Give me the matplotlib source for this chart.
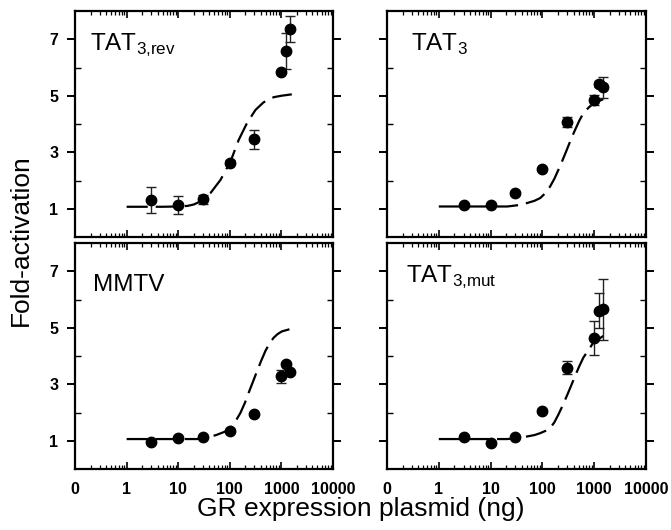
import matplotlib
matplotlib.use("Agg")
import matplotlib.pyplot as plt
from matplotlib.ticker import LogLocator, NullFormatter, FixedLocator

plt.rcParams['font.family'] = ['Liberation Sans', 'DejaVu Sans']

# ---- data ----
dose = [3, 10, 30, 100, 300, 1000, 1250, 1500]

tat3rev_y = [1.31, 1.14, 1.33, 2.63, 3.46, 5.85, 6.58, 7.37]
tat3rev_err = [0.46, 0.32, 0.17, 0.08, 0.33, 0.05, 0.63, 0.47]
tat3rev_fit_x = [1, 5, 10, 15, 20, 27, 42, 66, 103, 149, 215, 315, 453, 712, 1000, 1590]
tat3rev_fit_y = [1.07, 1.07, 1.08, 1.10, 1.15, 1.26, 1.55, 2.02, 2.67, 3.44, 4.03, 4.50, 4.77, 4.95, 5.00, 5.05]

tat3_y = [1.14, 1.12, 1.55, 2.41, 4.08, 4.85, 5.42, 5.30]
tat3_err = [0.04, 0.03, 0.08, 0.05, 0.17, 0.17, 0.10, 0.37]
tat3_fit_x = [1, 10, 21, 35, 50, 70, 91, 115, 141, 170, 204, 245, 295, 355, 427, 510, 616, 780, 970, 1500]
tat3_fit_y = [1.08, 1.08, 1.08, 1.13, 1.20, 1.28, 1.38, 1.56, 1.79, 2.06, 2.38, 2.72, 3.08, 3.45, 3.79, 4.10, 4.38, 4.58, 4.73, 4.88]

mmtv_y = [0.95, 1.10, 1.12, 1.33, 1.95, 3.29, 3.70, 3.43]
mmtv_err = [0.03, 0.03, 0.03, 0.07, 0.05, 0.23, 0.05, 0.05]
mmtv_fit_x = [1, 10, 23, 40, 56, 80, 103, 130, 160, 195, 232, 280, 338, 410, 490, 590, 710, 850, 1020, 1590]
mmtv_fit_y = [1.06, 1.06, 1.06, 1.13, 1.21, 1.32, 1.45, 1.70, 1.98, 2.33, 2.70, 3.08, 3.47, 3.85, 4.18, 4.45, 4.65, 4.78, 4.87, 4.97]

tat3mut_y = [1.15, 0.92, 1.13, 2.04, 3.59, 4.65, 5.60, 5.66]
tat3mut_err = [0.03, 0.03, 0.03, 0.07, 0.22, 0.60, 0.62, 1.08]
tat3mut_fit_x = [1, 10, 21, 35, 50, 70, 91, 115, 141, 170, 204, 245, 295, 355, 427, 510, 616, 780, 970, 1500]
tat3mut_fit_y = [1.06, 1.06, 1.06, 1.10, 1.15, 1.20, 1.27, 1.35, 1.45, 1.65, 1.93, 2.24, 2.58, 2.93, 3.29, 3.62, 3.94, 4.22, 4.48, 4.71]

panel_names = [r'TAT$_{\mathregular{3{,}rev}}$', r'TAT$_{\mathregular{3}}$',
               'MMTV', r'TAT$_{\mathregular{3{,}mut}}$']
panels = [
    (tat3rev_y, tat3rev_err, tat3rev_fit_x, tat3rev_fit_y),
    (tat3_y, tat3_err, tat3_fit_x, tat3_fit_y),
    (mmtv_y, mmtv_err, mmtv_fit_x, mmtv_fit_y),
    (tat3mut_y, tat3mut_err, tat3mut_fit_x, tat3mut_fit_y),
]
name_pos = [(0.058, 0.823), (0.093, 0.826), (0.071, 0.786), (0.075, 0.822)]

xtick_vals = [0.1, 1, 10, 100, 1000, 10000]
xtick_labels = ['0', '1', '10', '100', '1000', '10000']
ytick_vals = [1, 3, 5, 7]

W, H = 671, 530
fig = plt.figure(figsize=(W / 100, H / 100), dpi=100)

lefts = [75, 387]
widths = [258, 259]
tops = [11, 243]
heights = [226, 226]

for i, (y, err, fx, fy) in enumerate(panels):
    r, c = divmod(i, 2)
    ax = fig.add_axes([lefts[c] / W, 1 - (tops[r] + heights[r]) / H, widths[c] / W, heights[r] / H])
    ax.set_xscale('log')
    ax.set_xlim(0.1, 10000)
    ax.set_ylim(0, 8)
    ax.plot(fx, fy, color='black', lw=1.6, dashes=(9.5, 3.6), zorder=2)
    ax.errorbar(dose, y, yerr=err, fmt='o', color='black', ms=7.5,
                ecolor='#222222', elinewidth=1.0, capsize=3.5, capthick=1.0, zorder=3)
    for s in ax.spines.values():
        s.set_linewidth(1.6)
    ax.xaxis.set_major_locator(FixedLocator(xtick_vals))
    ax.xaxis.set_minor_locator(LogLocator(base=10, subs=[2, 3, 4, 5, 6, 7, 8, 9], numticks=20))
    ax.xaxis.set_minor_formatter(NullFormatter())
    ax.tick_params(axis='x', which='major', direction='in', length=5, width=1.2,
                   top=True, bottom=True)
    ax.tick_params(axis='x', which='minor', direction='in', length=3, width=0.9,
                   top=True, bottom=True)
    ax.set_yticks(ytick_vals)
    ax.set_yticks([2, 4, 6], minor=True)
    ax.tick_params(axis='y', which='major', direction='out', length=6, width=1.4,
                   left=True, right=True)
    ax.tick_params(axis='y', which='minor', direction='in', length=4, width=1.0,
                   left=True, right=True)
    if r == 1:
        ax.set_xticklabels(xtick_labels, fontsize=11.5, fontweight='bold')
        ax.tick_params(axis='x', which='major', pad=9)
    else:
        ax.set_xticklabels([])
    if c == 0:
        ax.set_yticklabels([str(v) for v in ytick_vals], fontsize=11.5, fontweight='bold')
        ax.tick_params(axis='y', which='major', pad=6)
    else:
        ax.set_yticklabels([])
    nx, ny = name_pos[i]
    ax.text(nx, ny, panel_names[i], transform=ax.transAxes, fontsize=17.5,
            ha='left', va='baseline')

fig.text(361 / W, 1 - 509 / H, 'GR expression plasmid (ng)', ha='center', va='center', fontsize=19)
fig.text(21 / W, 1 - 240 / H, 'Fold-activation', ha='center', va='center', fontsize=19, rotation=90)

fig.savefig('out.png', dpi=100)
